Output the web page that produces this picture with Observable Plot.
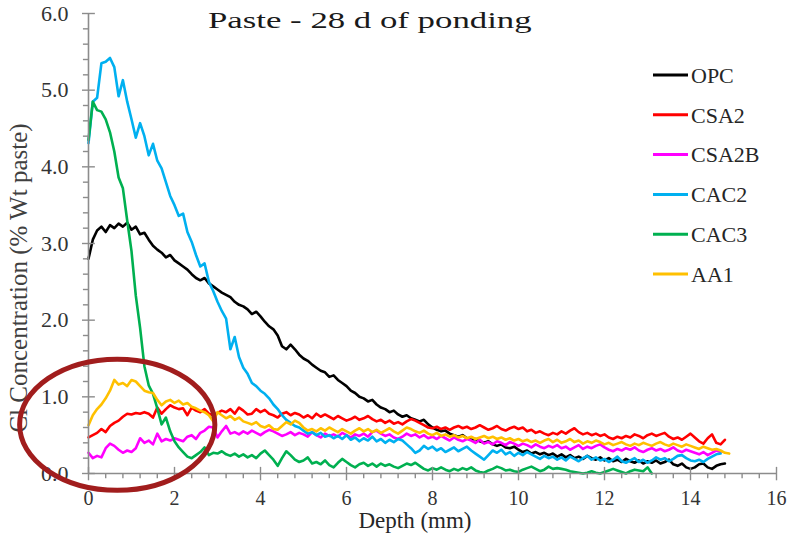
<!DOCTYPE html>
<html><head><meta charset="utf-8">
<script src="https://cdn.jsdelivr.net/npm/d3@7"></script>
<script src="https://cdn.jsdelivr.net/npm/@observablehq/plot@0.6"></script>
<style>body{margin:0;background:#fff;} svg{display:block}</style>
</head><body><div id="chart"></div>
<script>
// ---- data ----
const seriesNames = ["OPC","CSA2","CSA2B","CAC2","CAC3","AA1"];
const seriesColors = ["#000000","#FF0000","#FF00FF","#00B0F0","#00B050","#FFC000"];
const depthStep = 0.1; // mm between readings, starting at 0

const opc = [2.80,3.05,3.17,3.22,3.15,3.24,3.20,3.26,3.22,3.27,
 3.18,3.22,3.12,3.14,3.05,2.97,2.92,2.88,2.82,2.85,
 2.78,2.74,2.70,2.66,2.60,2.55,2.52,2.55,2.48,2.44,
 2.40,2.36,2.33,2.30,2.24,2.20,2.18,2.14,2.08,2.11,
 2.05,1.98,1.92,1.88,1.80,1.66,1.62,1.68,1.62,1.55,
 1.50,1.47,1.42,1.38,1.34,1.32,1.26,1.28,1.22,1.18,
 1.14,1.08,1.05,1.00,0.98,0.94,0.96,0.90,0.86,0.84,
 0.80,0.82,0.77,0.74,0.76,0.72,0.70,0.68,0.70,0.64,
 0.60,0.57,0.55,0.56,0.52,0.50,0.48,0.50,0.46,0.44,
 0.45,0.42,0.40,0.42,0.38,0.36,0.38,0.34,0.33,0.35,
 0.31,0.28,0.30,0.26,0.28,0.25,0.27,0.24,0.26,0.22,
 0.25,0.21,0.24,0.20,0.22,0.19,0.23,0.20,0.18,0.21,
 0.17,0.20,0.16,0.18,0.15,0.19,0.16,0.14,0.17,0.13,
 0.16,0.14,0.17,0.13,0.15,0.18,0.12,0.10,0.13,0.08,
 0.06,0.08,0.12,0.13,0.08,0.06,0.10,0.12,0.13];

const csa2 = [0.47,0.50,0.53,0.58,0.54,0.62,0.66,0.69,0.74,0.78,
 0.77,0.79,0.78,0.80,0.78,0.73,0.86,0.78,0.84,0.89,
 0.86,0.84,0.85,0.76,0.86,0.82,0.80,0.84,0.78,0.76,
 0.79,0.82,0.80,0.84,0.78,0.86,0.82,0.77,0.78,0.84,
 0.80,0.83,0.78,0.76,0.73,0.78,0.80,0.76,0.79,0.77,
 0.73,0.76,0.72,0.78,0.74,0.77,0.74,0.71,0.75,0.72,
 0.69,0.71,0.74,0.70,0.72,0.75,0.71,0.68,0.70,0.66,
 0.69,0.65,0.67,0.64,0.68,0.71,0.69,0.66,0.63,0.60,
 0.59,0.61,0.58,0.60,0.57,0.60,0.62,0.59,0.61,0.58,
 0.60,0.63,0.60,0.57,0.59,0.62,0.58,0.56,0.59,0.61,
 0.58,0.60,0.55,0.57,0.53,0.55,0.52,0.50,0.53,0.51,
 0.55,0.52,0.56,0.59,0.54,0.51,0.53,0.50,0.52,0.49,
 0.51,0.47,0.45,0.48,0.46,0.49,0.47,0.51,0.49,0.46,
 0.50,0.52,0.49,0.51,0.53,0.48,0.45,0.47,0.44,0.48,
 0.52,0.47,0.42,0.39,0.46,0.51,0.40,0.38,0.44];

const csa2b = [0.27,0.20,0.23,0.21,0.33,0.39,0.36,0.31,0.27,0.30,
 0.28,0.33,0.46,0.40,0.43,0.38,0.52,0.42,0.45,0.43,
 0.46,0.44,0.42,0.48,0.50,0.45,0.53,0.56,0.61,0.60,
 0.47,0.55,0.62,0.52,0.54,0.51,0.55,0.52,0.56,0.53,
 0.50,0.54,0.57,0.55,0.52,0.49,0.51,0.54,0.50,0.53,
 0.51,0.48,0.54,0.50,0.47,0.52,0.49,0.51,0.48,0.53,
 0.50,0.47,0.51,0.49,0.52,0.48,0.54,0.56,0.52,0.49,
 0.51,0.47,0.45,0.48,0.52,0.49,0.51,0.47,0.50,0.46,
 0.48,0.45,0.49,0.46,0.43,0.47,0.44,0.42,0.45,0.43,
 0.40,0.44,0.39,0.41,0.38,0.42,0.40,0.37,0.41,0.39,
 0.36,0.39,0.37,0.34,0.38,0.35,0.33,0.36,0.34,0.37,
 0.33,0.35,0.31,0.34,0.37,0.32,0.35,0.33,0.36,0.38,
 0.34,0.31,0.29,0.32,0.30,0.33,0.31,0.34,0.30,0.28,
 0.31,0.33,0.30,0.32,0.29,0.31,0.34,0.30,0.28,0.31,
 0.29,0.27,0.25,0.28,0.24,0.27,0.30,0.28];

const cac2 = [4.31,4.85,4.90,5.35,5.37,5.42,5.30,4.92,5.13,4.85,
 4.62,4.38,4.57,4.40,4.15,4.30,4.08,3.98,3.80,3.62,
 3.50,3.36,3.39,3.15,3.02,2.85,2.70,2.74,2.50,2.38,
 2.24,2.12,2.02,1.62,1.78,1.52,1.38,1.30,1.18,1.14,
 1.08,1.04,0.98,0.90,0.84,0.76,0.70,0.66,0.62,0.60,
 0.56,0.52,0.54,0.50,0.53,0.48,0.50,0.46,0.49,0.45,
 0.50,0.44,0.47,0.42,0.46,0.43,0.48,0.42,0.45,0.40,
 0.44,0.41,0.45,0.43,0.38,0.33,0.27,0.30,0.36,0.32,
 0.35,0.30,0.33,0.28,0.31,0.34,0.29,0.32,0.35,0.30,
 0.26,0.22,0.18,0.24,0.30,0.27,0.31,0.25,0.28,0.23,
 0.27,0.24,0.28,0.25,0.22,0.19,0.23,0.20,0.22,0.18,
 0.21,0.17,0.22,0.19,0.16,0.20,0.23,0.18,0.21,0.17,
 0.19,0.15,0.18,0.22,0.16,0.14,0.17,0.20,0.15,0.18,
 0.14,0.17,0.21,0.18,0.20,0.16,0.19,0.23,0.24,0.20,
 0.17,0.16,0.18,0.15,0.19,0.22,0.25,0.26];

const cac3 = [4.35,4.85,4.74,4.72,4.62,4.45,4.20,3.86,3.72,3.30,
 2.90,2.32,1.90,1.40,1.15,1.04,0.85,0.64,0.73,0.55,
 0.42,0.34,0.28,0.22,0.20,0.24,0.28,0.34,0.24,0.27,
 0.26,0.29,0.25,0.23,0.26,0.22,0.25,0.21,0.24,0.20,
 0.26,0.30,0.24,0.18,0.10,0.20,0.29,0.24,0.18,0.15,
 0.17,0.21,0.13,0.15,0.12,0.17,0.11,0.08,0.14,0.19,
 0.15,0.11,0.08,0.12,0.14,0.10,0.13,0.09,0.13,0.10,
 0.12,0.09,0.07,0.10,0.13,0.11,0.14,0.10,0.06,0.04,
 0.07,0.05,0.08,0.05,0.03,0.06,0.04,0.07,0.05,0.08,
 0.04,0.02,0.01,0.04,0.06,0.09,0.07,0.04,0.05,0.03,
 0.02,0.05,0.07,0.09,0.06,0.03,0.05,0.09,0.06,0.07,
 0.06,0.05,0.03,0.02,0.01,0.00,0.01,0.03,0.01,0.00,
 0.02,0.04,0.06,0.04,0.02,0.00,0.03,0.05,0.04,0.03,
 0.08,0.00];

const aa1 = [0.63,0.76,0.84,0.90,0.98,1.08,1.22,1.16,1.18,1.14,
 1.22,1.20,1.14,1.08,1.06,1.05,0.96,0.89,0.94,0.96,
 0.92,0.95,0.90,0.92,0.87,0.85,0.82,0.80,0.76,0.68,
 0.80,0.76,0.72,0.75,0.70,0.73,0.68,0.66,0.64,0.67,
 0.62,0.60,0.63,0.58,0.57,0.62,0.67,0.64,0.69,0.66,
 0.60,0.56,0.58,0.55,0.59,0.56,0.60,0.57,0.54,0.58,
 0.55,0.52,0.56,0.59,0.55,0.58,0.54,0.57,0.53,0.56,
 0.59,0.55,0.52,0.56,0.60,0.58,0.55,0.53,0.56,0.52,
 0.50,0.53,0.49,0.51,0.48,0.50,0.47,0.49,0.46,0.48,
 0.45,0.47,0.49,0.46,0.48,0.45,0.47,0.44,0.46,0.43,
 0.45,0.42,0.44,0.41,0.43,0.40,0.43,0.45,0.41,0.44,
 0.40,0.42,0.45,0.41,0.43,0.39,0.42,0.40,0.43,0.41,
 0.38,0.40,0.37,0.39,0.41,0.38,0.36,0.39,0.37,0.40,
 0.38,0.36,0.39,0.41,0.38,0.36,0.39,0.37,0.35,0.38,
 0.36,0.34,0.32,0.35,0.33,0.31,0.32,0.30,0.27,0.26];

const xMajorTicks = [0,2,4,6,8,10,12,14,16];
const yMajorTicks = [0,1,2,3,4,5,6];
const titleText = "Paste - 28 d of ponding";
const xLabel = "Depth (mm)";
const yLabel = "Cl Concentration (% Wt paste)";
// highlight ellipse annotation, in data units (mm, %)
const highlight = {cx: 0.68, cy: 0.63, rx: 2.27, ry: 0.855};

// ---- build ----
const valuesBySeries = [opc, csa2, csa2b, cac2, cac3, aa1];
const rows = seriesNames.flatMap((name, k) =>
  valuesBySeries[k].map((v, i) => ({series: name, depth: Math.round(i * depthStep * 10) / 10, value: v})));

const xMinor = d3.range(0, 81).map(i => Math.round(i * 4) / 10).filter(v => v <= 16 && !xMajorTicks.includes(v));
const yMinor = d3.range(0, 31).map(i => Math.round(i * 2) / 10).filter(v => !yMajorTicks.includes(v));

const axisColor = "#8c8c8c";
const font = "'Liberation Serif', 'Times New Roman', serif";

const chart = Plot.plot({
  width: 792, height: 535,
  marginLeft: 88, marginRight: 16, marginTop: 13, marginBottom: 62,
  style: {fontFamily: font, background: "#fff", color: "#333"},
  x: {domain: [0, 16], label: null},
  y: {domain: [0, 6], label: null},
  color: {domain: seriesNames, range: seriesColors},
  marks: [
    Plot.line(rows, {x: "depth", y: "value", z: "series", stroke: "series", strokeWidth: 2.6, strokeLinejoin: "round"}),
    Plot.ruleY([0], {stroke: axisColor, strokeWidth: 1.6}),
    Plot.ruleX([0], {stroke: axisColor, strokeWidth: 1.6}),
    Plot.ruleX(xMinor, {y1: 0, y2: -0.068, stroke: axisColor, strokeWidth: 1.4}),
    Plot.ruleX(xMajorTicks, {y1: -0.095, y2: 0.08, stroke: axisColor, strokeWidth: 1.4}),
    Plot.ruleY(yMinor, {x1: -0.118, x2: 0, stroke: axisColor, strokeWidth: 1.4}),
    Plot.ruleY(yMajorTicks, {x1: -0.14, x2: 0.16, stroke: axisColor, strokeWidth: 1.4}),
    Plot.axisX(xMajorTicks, {anchor: "bottom", label: null, tickSize: 0, tickPadding: 17, fontSize: 20, fill: "#333"}),
    Plot.axisY(yMajorTicks, {anchor: "left", label: null, tickSize: 0, tickPadding: 20, fontSize: 22, fill: "#333", tickFormat: d3.format(".1f")})
  ]
});

document.getElementById("chart").appendChild(chart);

const svg = d3.select(chart);
const xs = chart.scale("x"), ys = chart.scale("y");
const sx = d3.scaleLinear(xs.domain, xs.range), sy = d3.scaleLinear(ys.domain, ys.range);

// title
svg.append("text")
  .attr("transform", "translate(208,28) scale(1.45,1)")
  .attr("text-anchor", "start")
  .attr("font-family", font).attr("font-size", 24).attr("fill", "#1a1a1a")
  .text(titleText);

// axis labels
svg.append("text")
  .attr("transform", "translate(27,278) rotate(-90)")
  .attr("text-anchor", "middle")
  .attr("font-family", font).attr("font-size", 25).attr("fill", "#404040")
  .text(yLabel);
svg.append("text")
  .attr("x", 415).attr("y", 528)
  .attr("text-anchor", "middle")
  .attr("font-family", font).attr("font-size", 23).attr("fill", "#262626")
  .text(xLabel);

// legend
const lg = svg.append("g").attr("font-family", font).attr("font-size", 22).attr("fill", "#262626").attr("text-anchor", "start");
seriesNames.forEach((name, i) => {
  const y = 75 + i * 39.8;
  lg.append("line").attr("x1", 653).attr("x2", 688).attr("y1", y).attr("y2", y)
    .attr("stroke", seriesColors[i]).attr("stroke-width", 3);
  lg.append("text").attr("x", 691).attr("y", y).attr("dy", "0.35em").attr("text-anchor", "start").text(name);
});

// highlight ellipse
svg.append("ellipse")
  .attr("cx", sx(highlight.cx)).attr("cy", sy(highlight.cy))
  .attr("rx", sx(highlight.rx) - sx(0)).attr("ry", sy(0) - sy(highlight.ry))
  .attr("fill", "none").attr("stroke", "#A11D1D").attr("stroke-width", 5);
</script>
</body></html>
